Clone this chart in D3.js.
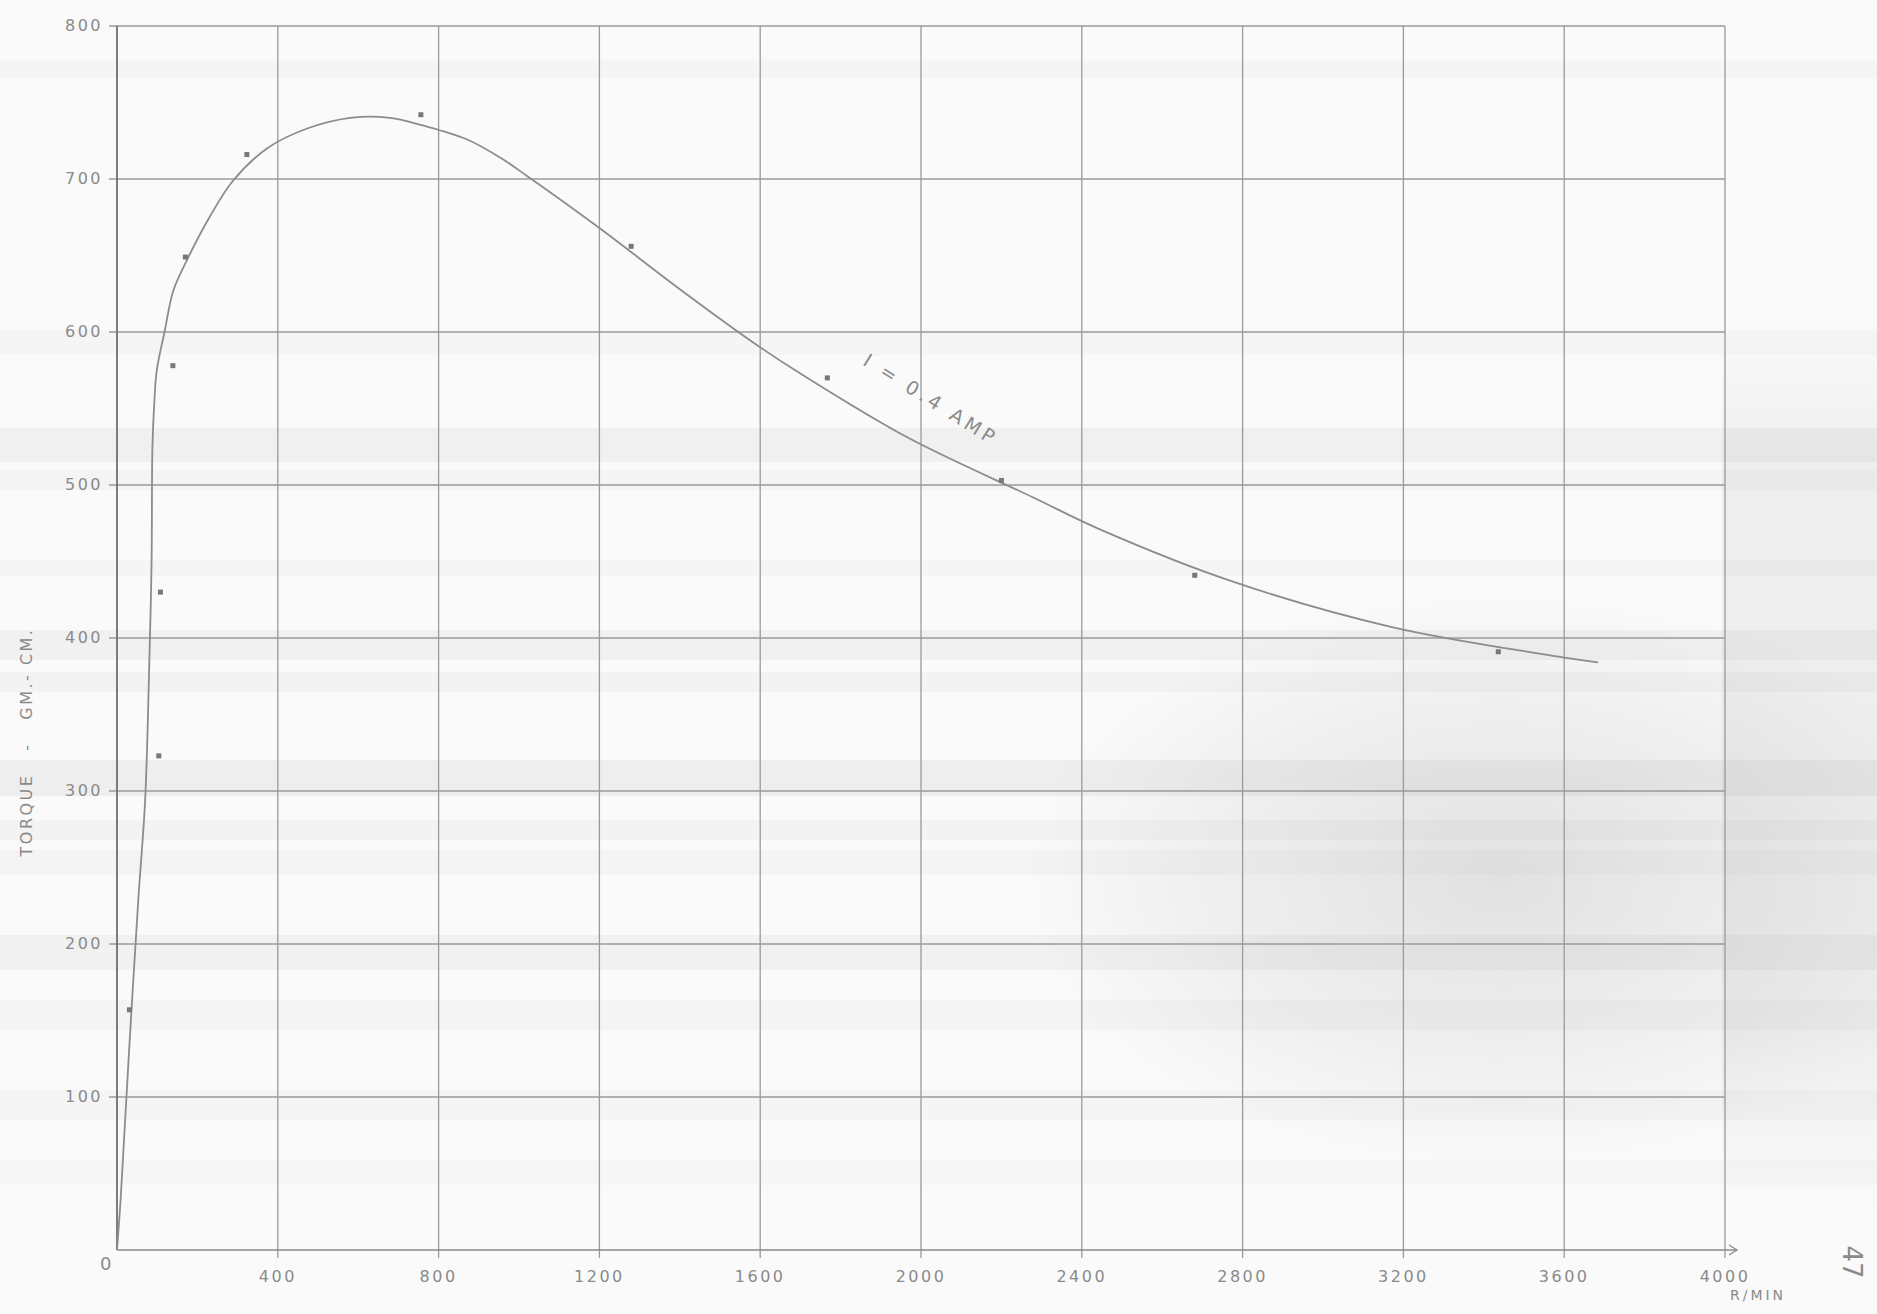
<!DOCTYPE html>
<html>
<head>
<meta charset="utf-8">
<script src="https://cdn.jsdelivr.net/npm/d3@7"></script>
<style>
  html, body { margin: 0; padding: 0; background: #fafafa; }
  svg { display: block; }
  text { font-family: "DejaVu Sans", sans-serif; fill: #8a8a8a; white-space: pre; }
</style>
</head>
<body>
<svg id="chart" width="1877" height="1314"></svg>
<script>
// ---- data ----
const xTicks = [0, 400, 800, 1200, 1600, 2000, 2400, 2800, 3200, 3600, 4000];
const xTickLabels = ["0", "400", "800", "1200", "1600", "2000", "2400", "2800", "3200", "3600", "4000"];
const yTicks = [0, 100, 200, 300, 400, 500, 600, 700, 800];
const yTickLabels = ["", "100", "200", "300", "400", "500", "600", "700", "800"];

// measured points (speed r/min, torque gm-cm)
const pointSpeed  = [31, 104, 108, 139, 170, 323, 756, 1279, 1767, 2200, 2681, 3436];
const pointTorque = [157, 323, 430, 578, 649, 716, 742, 656, 570, 503, 441, 391];

// faired curve, I = 0.4 amp
const curveSpeed  = [0, 9, 30, 53, 70, 80, 86, 88, 92, 99, 119, 140, 174, 230, 289, 373, 473, 580, 679, 761, 870, 953, 1020, 1200, 1400, 1600, 1699, 1967, 2278, 2445, 2774, 3174, 3582, 3684];
const curveTorque = [0, 33, 130, 229, 294, 380, 450, 523, 550, 575, 601, 627, 647, 675, 699, 720, 733, 740, 740, 735, 726, 714, 702, 668, 628, 590, 573, 531, 492, 471, 437, 407, 388, 384];

const xLabel = "R/MIN";
const yLabel = "TORQUE   -   GM.- CM.";
const curveLabel = "I = 0.4 AMP";
const pageNumber = "47";

// ---- layout ----
const svg = d3.select("#chart");
const x = d3.scaleLinear().domain([0, 4000]).range([117, 1725]);
const y = d3.scaleLinear().domain([0, 800]).range([1250, 26]);

// scan toning: faint horizontal bands and a smudge at lower right
const defs = svg.append("defs");
const rg = defs.append("radialGradient").attr("id", "smudge")
  .attr("cx", "50%").attr("cy", "50%").attr("r", "50%");
rg.append("stop").attr("offset", "0%").attr("stop-color", "#8c8c8c").attr("stop-opacity", 0.22);
rg.append("stop").attr("offset", "60%").attr("stop-color", "#8c8c8c").attr("stop-opacity", 0.1);
rg.append("stop").attr("offset", "100%").attr("stop-color", "#8c8c8c").attr("stop-opacity", 0);
svg.append("ellipse").attr("cx", 1500).attr("cy", 880).attr("rx", 480).attr("ry", 290)
  .attr("fill", "url(#smudge)");
const lg = defs.append("linearGradient").attr("id", "edge").attr("x1", 0).attr("y1", 0).attr("x2", 0).attr("y2", 1);
lg.append("stop").attr("offset", "0%").attr("stop-color", "#999").attr("stop-opacity", 0);
lg.append("stop").attr("offset", "15%").attr("stop-color", "#999").attr("stop-opacity", 0.12);
lg.append("stop").attr("offset", "80%").attr("stop-color", "#999").attr("stop-opacity", 0.12);
lg.append("stop").attr("offset", "100%").attr("stop-color", "#999").attr("stop-opacity", 0);
svg.append("rect").attr("x", 1722).attr("y", 330).attr("width", 155).attr("height", 880)
  .attr("fill", "url(#edge)");

const bands = [[60, 18, 0.05], [330, 25, 0.05], [428, 34, 0.1], [470, 20, 0.06], [560, 16, 0.05], [630, 30, 0.09], [672, 20, 0.07], [760, 36, 0.12], [820, 20, 0.07], [850, 25, 0.06], [935, 35, 0.09], [1000, 30, 0.06], [1090, 30, 0.05], [1160, 25, 0.04]];
svg.append("g").selectAll("rect").data(bands).join("rect")
  .attr("x", 0).attr("width", 1877)
  .attr("y", d => d[0]).attr("height", d => d[1])
  .attr("fill", "#9a9a9a").attr("opacity", d => d[2]);

// grid
const grid = svg.append("g").attr("stroke", "#9a9a9a").attr("stroke-width", 1.3);
grid.selectAll("line.v").data(xTicks.slice(1)).join("line")
  .attr("x1", d => x(d)).attr("x2", d => x(d))
  .attr("y1", y(0) + 8).attr("y2", y(800));
grid.selectAll("line.h").data(yTicks.slice(1)).join("line")
  .attr("x1", x(0) - 8).attr("x2", x(4000))
  .attr("y1", d => y(d)).attr("y2", d => y(d));

// axes lines
svg.append("line").attr("x1", x(0)).attr("x2", x(4000) + 12)
  .attr("y1", y(0)).attr("y2", y(0)).attr("stroke", "#8a8a8a").attr("stroke-width", 1.6);
svg.append("path").attr("d", `M${x(4000) + 4},${y(0) - 5} L${x(4000) + 12},${y(0)} L${x(4000) + 4},${y(0) + 5}`)
  .attr("fill", "none").attr("stroke", "#8a8a8a").attr("stroke-width", 1.3);
svg.append("line").attr("x1", x(0)).attr("x2", x(0))
  .attr("y1", y(0)).attr("y2", y(800)).attr("stroke", "#6f6f6f").attr("stroke-width", 1.8);

// tick labels
svg.append("g").selectAll("text").data(yTicks.slice(1)).join("text")
  .attr("x", x(0) - 14).attr("y", d => y(d) + 5)
  .attr("text-anchor", "end").attr("font-size", 16).attr("letter-spacing", 2.5)
  .text((d, i) => yTickLabels[i + 1]);
svg.append("g").selectAll("text").data(xTicks).join("text")
  .attr("x", d => d === 0 ? x(d) - 10 : x(d)).attr("y", d => d === 0 ? y(0) + 20 : y(0) + 32)
  .attr("text-anchor", "middle").attr("font-size", d => d === 0 ? 18 : 16).attr("letter-spacing", 2.5)
  .text((d, i) => xTickLabels[i]);

// axis titles
svg.append("text").attr("transform", `translate(32,742) rotate(-90)`)
  .attr("text-anchor", "middle").attr("font-size", 16).attr("letter-spacing", 2.5)
  .text(yLabel);
svg.append("text").attr("x", 1758).attr("y", 1300)
  .attr("text-anchor", "middle").attr("font-size", 14).attr("letter-spacing", 3).attr("fill", "#a8a8a8")
  .text(xLabel);
svg.append("text").attr("transform", `translate(1843,1262) rotate(90)`)
  .attr("text-anchor", "middle").attr("font-size", 26).attr("fill", "#777")
  .text(pageNumber);

// curve
const curveData = curveSpeed.map((s, i) => [s, curveTorque[i]]);
const line = d3.line().x(d => x(d[0])).y(d => y(d[1])).curve(d3.curveCatmullRom.alpha(0.5));
svg.append("path").datum(curveData).attr("d", line)
  .attr("fill", "none").attr("stroke", "#8c8c8c").attr("stroke-width", 1.8);

// curve label
svg.append("text").attr("transform", `translate(${x(2025)},${y(556)}) rotate(32)`)
  .attr("text-anchor", "middle").attr("dominant-baseline", "central")
  .attr("font-size", 19).attr("letter-spacing", 4)
  .text(curveLabel);

// points
const pts = pointSpeed.map((s, i) => [s, pointTorque[i]]);
svg.append("g").selectAll("rect").data(pts).join("rect")
  .attr("x", d => x(d[0]) - 2.5).attr("y", d => y(d[1]) - 2.5)
  .attr("width", 5).attr("height", 5).attr("fill", "#777");
</script>
</body>
</html>
